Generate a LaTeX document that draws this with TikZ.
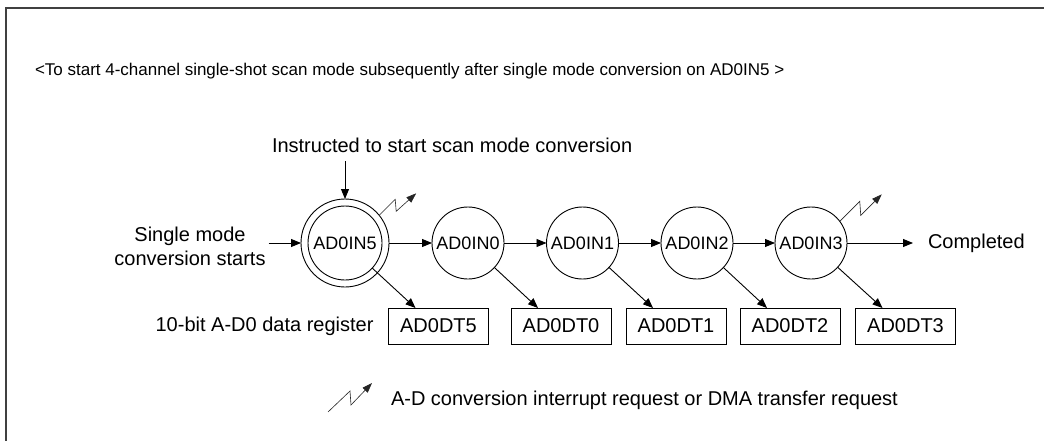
\documentclass[tikz,border=0pt]{standalone}
\usepackage{fontspec}
\setmainfont{Liberation Sans}
\usetikzlibrary{arrows.meta,calc}
\begin{document}
\begin{tikzpicture}[x=1pt,y=-1pt,
  every node/.style={inner sep=0pt, outer sep=0pt},
  chan/.style={circle, draw, line width=0.9pt, minimum size=72pt, font=\fontsize{18}{20}\selectfont},
  reg/.style={draw, line width=0.9pt, minimum width=100pt, minimum height=36pt, font=\fontsize{20}{22}\selectfont},
  lbl/.style={font=\fontsize{20}{24}\selectfont, align=center},
  arr/.style={line width=0.9pt, -{Triangle[length=10pt,width=8pt]}},
  bolt/.style={line width=0.6pt, draw=black!85, -{Triangle[length=10pt,width=7pt]}}
]
\useasboundingbox (0,0) rectangle (1044,441);
\draw[line width=1.6pt, black!75] (1044,8) -- (6,8) -- (6,441);

\node[anchor=west, font=\fontsize{17}{20}\selectfont] (title) at (35,71)
  {<To start 4-channel single-shot scan mode subsequently after single mode conversion on AD0IN5 >};

\node[lbl, anchor=west] (ins) at (272,145) {Instructed to start scan mode conversion};
\coordinate (instr) at (345,161);

\node[lbl] (sm) at (190,246) {Single mode\\conversion starts};

\node[chan, minimum size=74pt] (c5) at (345,243) {AD0IN5};
\node[circle, draw, line width=0.9pt, minimum size=88pt] (c5o) at (345,243) {};
\node[chan] (c0) at (468,243) {AD0IN0};
\node[chan] (c1) at (582.5,243) {AD0IN1};
\node[chan] (c2) at (697,243) {AD0IN2};
\node[chan] (c3) at (811,243) {AD0IN3};

\node[lbl, anchor=west] (comp) at (928,243) {Completed};

\node[reg] (b5) at (438.5,326) {AD0DT5};
\node[reg] (b0) at (561,326) {AD0DT0};
\node[reg] (b1) at (676,326) {AD0DT1};
\node[reg] (b2) at (790,326) {AD0DT2};
\node[reg] (b3) at (905.5,326) {AD0DT3};

\node[lbl, anchor=east] (reglbl) at ([xshift=-15pt]b5.west) {10-bit A-D0 data register};

\draw[arr] (instr) -- (c5o);
\draw[arr] ([xshift=3pt]sm.east |- c5o) -- (c5o);
\draw[arr] (c5o) -- (c0);
\draw[arr] (c0) -- (c1);
\draw[arr] (c1) -- (c2);
\draw[arr] (c2) -- (c3);
\draw[arr] (c3) -- ([xshift=-15pt]comp.west);

\draw[arr] (c5) -- ([xshift=27pt]b5.north west);
\draw[arr] (c0) -- ([xshift=27pt]b0.north west);
\draw[arr] (c1) -- ([xshift=27pt]b1.north west);
\draw[arr] (c2) -- ([xshift=27pt]b2.north west);
\draw[arr] (c3) -- ([xshift=27pt]b3.north west);

\draw[bolt] (c5o.39) -- ++(16,-16) -- ++(1,12) -- ++(20,-18);
\draw[bolt] (c3.37) -- ++(20,-20) -- ++(1,14) -- ++(21,-21);

\coordinate (lg) at (328,412);
\draw[bolt] (lg) -- ++(22,-21) -- ++(1,14) -- ++(21,-22);
\node[anchor=west, font=\fontsize{20}{22}\selectfont] (leg) at (391,400)
  {A-D conversion interrupt request or DMA transfer request};
\end{tikzpicture}
\end{document}
